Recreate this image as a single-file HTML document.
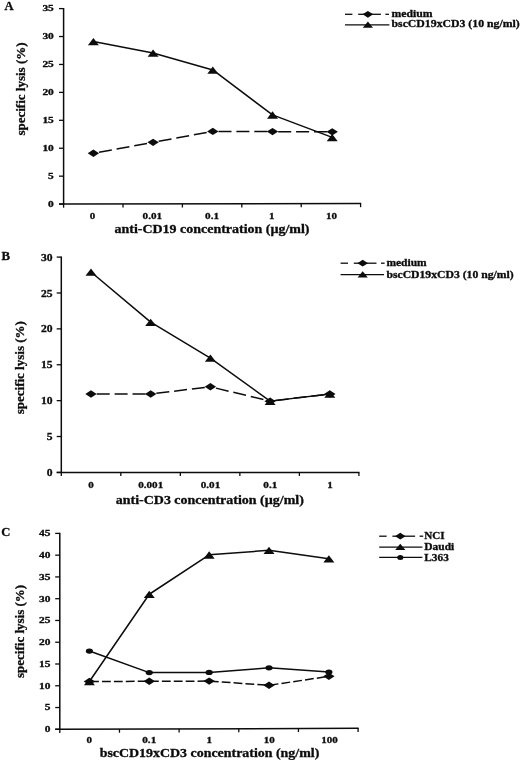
<!DOCTYPE html>
<html><head><meta charset="utf-8"><title>Figure</title>
<style>
html,body{margin:0;padding:0;background:#fff;}
body{width:520px;height:760px;overflow:hidden;}
svg{display:block;filter:blur(0.45px);}
svg text{font-family:"Liberation Serif", serif;font-weight:bold;fill:#0c0c0c;stroke:#0c0c0c;stroke-width:0.3px;}
</style></head><body>
<svg width="520" height="760" viewBox="0 0 520 760">
<rect width="520" height="760" fill="#fff"/>
<line x1="63.6" y1="8.0" x2="63.6" y2="204.79999999999998" stroke="#0c0c0c" stroke-width="1.5"/>
<line x1="59.0" y1="204.1" x2="361.20000000000005" y2="203.6" stroke="#0c0c0c" stroke-width="1.5"/>
<line x1="59.0" y1="204.10" x2="63.6" y2="204.10" stroke="#0c0c0c" stroke-width="1.3"/>
<text x="53.80" y="206.90" font-size="8.4" text-anchor="end" textLength="5.70" lengthAdjust="spacingAndGlyphs">0</text>
<line x1="59.0" y1="176.17" x2="63.6" y2="176.17" stroke="#0c0c0c" stroke-width="1.3"/>
<text x="53.80" y="178.97" font-size="8.4" text-anchor="end" textLength="5.70" lengthAdjust="spacingAndGlyphs">5</text>
<line x1="59.0" y1="148.24" x2="63.6" y2="148.24" stroke="#0c0c0c" stroke-width="1.3"/>
<text x="53.80" y="151.04" font-size="8.4" text-anchor="end" textLength="11.40" lengthAdjust="spacingAndGlyphs">10</text>
<line x1="59.0" y1="120.31" x2="63.6" y2="120.31" stroke="#0c0c0c" stroke-width="1.3"/>
<text x="53.80" y="123.11" font-size="8.4" text-anchor="end" textLength="11.40" lengthAdjust="spacingAndGlyphs">15</text>
<line x1="59.0" y1="92.39" x2="63.6" y2="92.39" stroke="#0c0c0c" stroke-width="1.3"/>
<text x="53.80" y="95.19" font-size="8.4" text-anchor="end" textLength="11.40" lengthAdjust="spacingAndGlyphs">20</text>
<line x1="59.0" y1="64.46" x2="63.6" y2="64.46" stroke="#0c0c0c" stroke-width="1.3"/>
<text x="53.80" y="67.26" font-size="8.4" text-anchor="end" textLength="11.40" lengthAdjust="spacingAndGlyphs">25</text>
<line x1="59.0" y1="36.53" x2="63.6" y2="36.53" stroke="#0c0c0c" stroke-width="1.3"/>
<text x="53.80" y="39.33" font-size="8.4" text-anchor="end" textLength="11.40" lengthAdjust="spacingAndGlyphs">30</text>
<line x1="59.0" y1="8.60" x2="63.6" y2="8.60" stroke="#0c0c0c" stroke-width="1.3"/>
<text x="53.80" y="11.40" font-size="8.4" text-anchor="end" textLength="11.40" lengthAdjust="spacingAndGlyphs">35</text>
<line x1="63.60" y1="204.10" x2="63.60" y2="207.70" stroke="#0c0c0c" stroke-width="1.3"/>
<line x1="123.00" y1="204.00" x2="123.00" y2="207.60" stroke="#0c0c0c" stroke-width="1.3"/>
<line x1="182.40" y1="203.90" x2="182.40" y2="207.50" stroke="#0c0c0c" stroke-width="1.3"/>
<line x1="241.80" y1="203.80" x2="241.80" y2="207.40" stroke="#0c0c0c" stroke-width="1.3"/>
<line x1="301.20" y1="203.70" x2="301.20" y2="207.30" stroke="#0c0c0c" stroke-width="1.3"/>
<line x1="360.60" y1="203.60" x2="360.60" y2="207.20" stroke="#0c0c0c" stroke-width="1.3"/>
<text x="92.60" y="218.60" font-size="9" text-anchor="middle" textLength="5.50" lengthAdjust="spacingAndGlyphs">0</text>
<text x="152.35" y="218.60" font-size="9" text-anchor="middle" textLength="19.50" lengthAdjust="spacingAndGlyphs">0.01</text>
<text x="212.10" y="218.60" font-size="9" text-anchor="middle" textLength="14.00" lengthAdjust="spacingAndGlyphs">0.1</text>
<text x="271.85" y="218.60" font-size="9" text-anchor="middle" textLength="5.50" lengthAdjust="spacingAndGlyphs">1</text>
<text x="331.60" y="218.60" font-size="9" text-anchor="middle" textLength="11.00" lengthAdjust="spacingAndGlyphs">10</text>
<text x="212.00" y="232.60" font-size="12" text-anchor="middle" textLength="195.00" lengthAdjust="spacingAndGlyphs">anti-CD19 concentration (µg/ml)</text>
<text transform="translate(25.4,89.0) rotate(-90)" font-size="13" text-anchor="middle">specific lysis (%)</text>
<text x="4.60" y="9.80" font-size="12.5" text-anchor="start">A</text>
<line x1="93.40" y1="153.28" x2="153.10" y2="142.33" stroke="#0c0c0c" stroke-width="1.5" stroke-dasharray="13 4.9" stroke-dashoffset="12.2"/>
<line x1="153.10" y1="142.33" x2="212.80" y2="131.39" stroke="#0c0c0c" stroke-width="1.5" stroke-dasharray="13 4.9" stroke-dashoffset="12.2"/>
<line x1="212.80" y1="131.39" x2="272.50" y2="131.61" stroke="#0c0c0c" stroke-width="1.5" stroke-dasharray="13 4.9" stroke-dashoffset="12.2"/>
<line x1="272.50" y1="131.61" x2="332.20" y2="131.84" stroke="#0c0c0c" stroke-width="1.5" stroke-dasharray="13 4.9" stroke-dashoffset="12.2"/>
<polygon points="87.70,153.28 93.40,149.58 99.10,153.28 93.40,156.98" fill="#0c0c0c"/>
<polygon points="147.40,142.33 153.10,138.63 158.80,142.33 153.10,146.03" fill="#0c0c0c"/>
<polygon points="207.10,131.39 212.80,127.69 218.50,131.39 212.80,135.09" fill="#0c0c0c"/>
<polygon points="266.80,131.61 272.50,127.91 278.20,131.61 272.50,135.31" fill="#0c0c0c"/>
<polygon points="326.50,131.84 332.20,128.14 337.90,131.84 332.20,135.54" fill="#0c0c0c"/>
<polyline points="93.40,41.57 153.10,52.96 212.80,69.95 272.50,114.86 332.20,137.42" fill="none" stroke="#0c0c0c" stroke-width="1.5" stroke-linejoin="round"/>
<polygon points="87.90,45.37 93.40,38.07 98.90,45.37" fill="#0c0c0c"/>
<polygon points="147.60,56.76 153.10,49.46 158.60,56.76" fill="#0c0c0c"/>
<polygon points="207.30,73.75 212.80,66.45 218.30,73.75" fill="#0c0c0c"/>
<polygon points="267.00,118.66 272.50,111.36 278.00,118.66" fill="#0c0c0c"/>
<polygon points="326.70,141.22 332.20,133.92 337.70,141.22" fill="#0c0c0c"/>
<line x1="345.00" y1="14.3" x2="352.40" y2="14.3" stroke="#0c0c0c" stroke-width="1.3"/>
<line x1="358.20" y1="14.3" x2="380.90" y2="14.3" stroke="#0c0c0c" stroke-width="1.3"/>
<line x1="385.40" y1="14.3" x2="389.00" y2="14.3" stroke="#0c0c0c" stroke-width="1.3"/>
<polygon points="362.60,14.30 367.90,10.90 373.20,14.30 367.90,17.70" fill="#0c0c0c"/>
<text x="391.50" y="16.60" font-size="10" text-anchor="start" textLength="41.00" lengthAdjust="spacingAndGlyphs">medium</text>
<line x1="345" y1="24.9" x2="389.4" y2="24.9" stroke="#0c0c0c" stroke-width="1.3"/>
<polygon points="362.80,27.70 367.90,21.50 373.00,27.70" fill="#0c0c0c"/>
<text x="391.50" y="27.20" font-size="10" text-anchor="start" textLength="128.20" lengthAdjust="spacingAndGlyphs">bscCD19xCD3 (10 ng/ml)</text>
<line x1="61.3" y1="256.5" x2="61.3" y2="473.09999999999997" stroke="#0c0c0c" stroke-width="1.5"/>
<line x1="56.699999999999996" y1="472.4" x2="359.5" y2="472.4" stroke="#0c0c0c" stroke-width="1.5"/>
<line x1="56.699999999999996" y1="472.40" x2="61.3" y2="472.40" stroke="#0c0c0c" stroke-width="1.3"/>
<text x="52.60" y="476.00" font-size="10.2" text-anchor="end" textLength="5.80" lengthAdjust="spacingAndGlyphs">0</text>
<line x1="56.699999999999996" y1="436.52" x2="61.3" y2="436.52" stroke="#0c0c0c" stroke-width="1.3"/>
<text x="52.60" y="440.12" font-size="10.2" text-anchor="end" textLength="5.80" lengthAdjust="spacingAndGlyphs">5</text>
<line x1="56.699999999999996" y1="400.63" x2="61.3" y2="400.63" stroke="#0c0c0c" stroke-width="1.3"/>
<text x="52.60" y="404.23" font-size="10.2" text-anchor="end" textLength="11.60" lengthAdjust="spacingAndGlyphs">10</text>
<line x1="56.699999999999996" y1="364.75" x2="61.3" y2="364.75" stroke="#0c0c0c" stroke-width="1.3"/>
<text x="52.60" y="368.35" font-size="10.2" text-anchor="end" textLength="11.60" lengthAdjust="spacingAndGlyphs">15</text>
<line x1="56.699999999999996" y1="328.87" x2="61.3" y2="328.87" stroke="#0c0c0c" stroke-width="1.3"/>
<text x="52.60" y="332.47" font-size="10.2" text-anchor="end" textLength="11.60" lengthAdjust="spacingAndGlyphs">20</text>
<line x1="56.699999999999996" y1="292.98" x2="61.3" y2="292.98" stroke="#0c0c0c" stroke-width="1.3"/>
<text x="52.60" y="296.58" font-size="10.2" text-anchor="end" textLength="11.60" lengthAdjust="spacingAndGlyphs">25</text>
<line x1="56.699999999999996" y1="257.10" x2="61.3" y2="257.10" stroke="#0c0c0c" stroke-width="1.3"/>
<text x="52.60" y="260.70" font-size="10.2" text-anchor="end" textLength="11.60" lengthAdjust="spacingAndGlyphs">30</text>
<line x1="61.30" y1="472.40" x2="61.30" y2="476.00" stroke="#0c0c0c" stroke-width="1.3"/>
<line x1="120.82" y1="472.40" x2="120.82" y2="476.00" stroke="#0c0c0c" stroke-width="1.3"/>
<line x1="180.34" y1="472.40" x2="180.34" y2="476.00" stroke="#0c0c0c" stroke-width="1.3"/>
<line x1="239.86" y1="472.40" x2="239.86" y2="476.00" stroke="#0c0c0c" stroke-width="1.3"/>
<line x1="299.38" y1="472.40" x2="299.38" y2="476.00" stroke="#0c0c0c" stroke-width="1.3"/>
<line x1="358.90" y1="472.40" x2="358.90" y2="476.00" stroke="#0c0c0c" stroke-width="1.3"/>
<text x="90.90" y="488.10" font-size="9" text-anchor="middle" textLength="5.50" lengthAdjust="spacingAndGlyphs">0</text>
<text x="150.70" y="488.10" font-size="9" text-anchor="middle" textLength="25.00" lengthAdjust="spacingAndGlyphs">0.001</text>
<text x="210.50" y="488.10" font-size="9" text-anchor="middle" textLength="19.50" lengthAdjust="spacingAndGlyphs">0.01</text>
<text x="270.30" y="488.10" font-size="9" text-anchor="middle" textLength="14.00" lengthAdjust="spacingAndGlyphs">0.1</text>
<text x="330.10" y="488.10" font-size="9" text-anchor="middle" textLength="5.50" lengthAdjust="spacingAndGlyphs">1</text>
<text x="209.80" y="504.30" font-size="12" text-anchor="middle" textLength="188.00" lengthAdjust="spacingAndGlyphs">anti-CD3 concentration (µg/ml)</text>
<text transform="translate(23.8,367.7) rotate(-90)" font-size="13" text-anchor="middle">specific lysis (%)</text>
<text x="1.60" y="259.90" font-size="12.8" text-anchor="start">B</text>
<line x1="91.00" y1="393.96" x2="150.70" y2="393.96" stroke="#0c0c0c" stroke-width="1.5" stroke-dasharray="13 4.9" stroke-dashoffset="12.2"/>
<line x1="150.70" y1="393.96" x2="210.40" y2="386.78" stroke="#0c0c0c" stroke-width="1.5" stroke-dasharray="13 4.9" stroke-dashoffset="12.2"/>
<line x1="210.40" y1="386.78" x2="270.10" y2="401.13" stroke="#0c0c0c" stroke-width="1.5" stroke-dasharray="13 4.9" stroke-dashoffset="12.2"/>
<line x1="270.10" y1="401.13" x2="329.80" y2="393.96" stroke="#0c0c0c" stroke-width="1.5" stroke-dasharray="13 4.9" stroke-dashoffset="12.2"/>
<polygon points="85.30,393.96 91.00,390.26 96.70,393.96 91.00,397.66" fill="#0c0c0c"/>
<polygon points="145.00,393.96 150.70,390.26 156.40,393.96 150.70,397.66" fill="#0c0c0c"/>
<polygon points="204.70,386.78 210.40,383.08 216.10,386.78 210.40,390.48" fill="#0c0c0c"/>
<polygon points="264.40,401.13 270.10,397.43 275.80,401.13 270.10,404.83" fill="#0c0c0c"/>
<polygon points="324.10,393.96 329.80,390.26 335.50,393.96 329.80,397.66" fill="#0c0c0c"/>
<polyline points="91.00,271.95 150.70,322.19 210.40,358.07 270.10,401.13 329.80,393.96" fill="none" stroke="#0c0c0c" stroke-width="1.5" stroke-linejoin="round"/>
<polygon points="85.50,275.75 91.00,268.45 96.50,275.75" fill="#0c0c0c"/>
<polygon points="145.20,325.99 150.70,318.69 156.20,325.99" fill="#0c0c0c"/>
<polygon points="204.90,361.87 210.40,354.57 215.90,361.87" fill="#0c0c0c"/>
<polygon points="264.60,404.93 270.10,397.63 275.60,404.93" fill="#0c0c0c"/>
<polygon points="324.30,397.76 329.80,390.46 335.30,397.76" fill="#0c0c0c"/>
<line x1="340.60" y1="263.2" x2="348.00" y2="263.2" stroke="#0c0c0c" stroke-width="1.3"/>
<line x1="353.80" y1="263.2" x2="376.50" y2="263.2" stroke="#0c0c0c" stroke-width="1.3"/>
<line x1="381.00" y1="263.2" x2="384.60" y2="263.2" stroke="#0c0c0c" stroke-width="1.3"/>
<polygon points="357.40,263.20 362.70,259.80 368.00,263.20 362.70,266.60" fill="#0c0c0c"/>
<text x="386.40" y="265.50" font-size="10" text-anchor="start" textLength="40.30" lengthAdjust="spacingAndGlyphs">medium</text>
<line x1="340.6" y1="274.7" x2="384" y2="274.7" stroke="#0c0c0c" stroke-width="1.3"/>
<polygon points="357.60,277.50 362.70,271.30 367.80,277.50" fill="#0c0c0c"/>
<text x="386.40" y="278.00" font-size="10" text-anchor="start" textLength="127.30" lengthAdjust="spacingAndGlyphs">bscCD19xCD3 (10 ng/ml)</text>
<line x1="59.8" y1="532.8" x2="59.8" y2="730.0" stroke="#0c0c0c" stroke-width="1.5"/>
<line x1="55.199999999999996" y1="729.3" x2="358.70000000000005" y2="728.3" stroke="#0c0c0c" stroke-width="1.5"/>
<line x1="55.199999999999996" y1="729.30" x2="59.8" y2="729.30" stroke="#0c0c0c" stroke-width="1.3"/>
<text x="50.40" y="732.10" font-size="8.3" text-anchor="end" textLength="5.70" lengthAdjust="spacingAndGlyphs">0</text>
<line x1="55.199999999999996" y1="707.53" x2="59.8" y2="707.53" stroke="#0c0c0c" stroke-width="1.3"/>
<text x="50.40" y="710.33" font-size="8.3" text-anchor="end" textLength="5.70" lengthAdjust="spacingAndGlyphs">5</text>
<line x1="55.199999999999996" y1="685.77" x2="59.8" y2="685.77" stroke="#0c0c0c" stroke-width="1.3"/>
<text x="50.40" y="688.57" font-size="8.3" text-anchor="end" textLength="11.40" lengthAdjust="spacingAndGlyphs">10</text>
<line x1="55.199999999999996" y1="664.00" x2="59.8" y2="664.00" stroke="#0c0c0c" stroke-width="1.3"/>
<text x="50.40" y="666.80" font-size="8.3" text-anchor="end" textLength="11.40" lengthAdjust="spacingAndGlyphs">15</text>
<line x1="55.199999999999996" y1="642.23" x2="59.8" y2="642.23" stroke="#0c0c0c" stroke-width="1.3"/>
<text x="50.40" y="645.03" font-size="8.3" text-anchor="end" textLength="11.40" lengthAdjust="spacingAndGlyphs">20</text>
<line x1="55.199999999999996" y1="620.47" x2="59.8" y2="620.47" stroke="#0c0c0c" stroke-width="1.3"/>
<text x="50.40" y="623.27" font-size="8.3" text-anchor="end" textLength="11.40" lengthAdjust="spacingAndGlyphs">25</text>
<line x1="55.199999999999996" y1="598.70" x2="59.8" y2="598.70" stroke="#0c0c0c" stroke-width="1.3"/>
<text x="50.40" y="601.50" font-size="8.3" text-anchor="end" textLength="11.40" lengthAdjust="spacingAndGlyphs">30</text>
<line x1="55.199999999999996" y1="576.93" x2="59.8" y2="576.93" stroke="#0c0c0c" stroke-width="1.3"/>
<text x="50.40" y="579.73" font-size="8.3" text-anchor="end" textLength="11.40" lengthAdjust="spacingAndGlyphs">35</text>
<line x1="55.199999999999996" y1="555.17" x2="59.8" y2="555.17" stroke="#0c0c0c" stroke-width="1.3"/>
<text x="50.40" y="557.97" font-size="8.3" text-anchor="end" textLength="11.40" lengthAdjust="spacingAndGlyphs">40</text>
<line x1="55.199999999999996" y1="533.40" x2="59.8" y2="533.40" stroke="#0c0c0c" stroke-width="1.3"/>
<text x="50.40" y="536.20" font-size="8.3" text-anchor="end" textLength="11.40" lengthAdjust="spacingAndGlyphs">45</text>
<line x1="59.80" y1="729.30" x2="59.80" y2="732.90" stroke="#0c0c0c" stroke-width="1.3"/>
<line x1="119.46" y1="729.10" x2="119.46" y2="732.70" stroke="#0c0c0c" stroke-width="1.3"/>
<line x1="179.12" y1="728.90" x2="179.12" y2="732.50" stroke="#0c0c0c" stroke-width="1.3"/>
<line x1="238.78" y1="728.70" x2="238.78" y2="732.30" stroke="#0c0c0c" stroke-width="1.3"/>
<line x1="298.44" y1="728.50" x2="298.44" y2="732.10" stroke="#0c0c0c" stroke-width="1.3"/>
<line x1="358.10" y1="728.30" x2="358.10" y2="731.90" stroke="#0c0c0c" stroke-width="1.3"/>
<text x="89.20" y="743.40" font-size="9" text-anchor="middle" textLength="5.50" lengthAdjust="spacingAndGlyphs">0</text>
<text x="149.25" y="743.40" font-size="9" text-anchor="middle" textLength="14.00" lengthAdjust="spacingAndGlyphs">0.1</text>
<text x="209.30" y="743.40" font-size="9" text-anchor="middle" textLength="5.50" lengthAdjust="spacingAndGlyphs">1</text>
<text x="269.35" y="743.40" font-size="9" text-anchor="middle" textLength="11.00" lengthAdjust="spacingAndGlyphs">10</text>
<text x="329.40" y="743.40" font-size="9" text-anchor="middle" textLength="16.50" lengthAdjust="spacingAndGlyphs">100</text>
<text x="209.50" y="757.40" font-size="12" text-anchor="middle" textLength="219.60" lengthAdjust="spacingAndGlyphs">bscCD19xCD3 concentration (ng/ml)</text>
<text transform="translate(23.8,631.4) rotate(-90)" font-size="13" text-anchor="middle">specific lysis (%)</text>
<text x="1.20" y="536.30" font-size="12.6" text-anchor="start">C</text>
<line x1="89.40" y1="681.51" x2="149.27" y2="681.31" stroke="#0c0c0c" stroke-width="1.5" stroke-dasharray="8.8 3.1" stroke-dashoffset="11.2"/>
<line x1="149.27" y1="681.31" x2="209.14" y2="681.11" stroke="#0c0c0c" stroke-width="1.5" stroke-dasharray="8.8 3.1" stroke-dashoffset="11.2"/>
<line x1="209.14" y1="681.11" x2="269.01" y2="685.27" stroke="#0c0c0c" stroke-width="1.5" stroke-dasharray="8.8 3.1" stroke-dashoffset="11.2"/>
<line x1="269.01" y1="685.27" x2="328.88" y2="676.36" stroke="#0c0c0c" stroke-width="1.5" stroke-dasharray="8.8 3.1" stroke-dashoffset="11.2"/>
<polygon points="83.70,681.51 89.40,677.81 95.10,681.51 89.40,685.21" fill="#0c0c0c"/>
<polygon points="143.57,681.31 149.27,677.61 154.97,681.31 149.27,685.01" fill="#0c0c0c"/>
<polygon points="203.44,681.11 209.14,677.41 214.84,681.11 209.14,684.81" fill="#0c0c0c"/>
<polygon points="263.31,685.27 269.01,681.57 274.71,685.27 269.01,688.97" fill="#0c0c0c"/>
<polygon points="323.18,676.36 328.88,672.66 334.58,676.36 328.88,680.06" fill="#0c0c0c"/>
<polyline points="89.40,681.51 149.27,594.25 209.14,554.87 269.01,550.31 328.88,558.82" fill="none" stroke="#0c0c0c" stroke-width="1.5" stroke-linejoin="round"/>
<polygon points="83.90,685.31 89.40,678.01 94.90,685.31" fill="#0c0c0c"/>
<polygon points="143.77,598.05 149.27,590.75 154.77,598.05" fill="#0c0c0c"/>
<polygon points="203.64,558.67 209.14,551.37 214.64,558.67" fill="#0c0c0c"/>
<polygon points="263.51,554.11 269.01,546.81 274.51,554.11" fill="#0c0c0c"/>
<polygon points="323.38,562.62 328.88,555.32 334.38,562.62" fill="#0c0c0c"/>
<polyline points="89.40,651.04 149.27,672.61 209.14,672.41 269.01,667.85 328.88,672.01" fill="none" stroke="#0c0c0c" stroke-width="1.5" stroke-linejoin="round"/>
<ellipse cx="89.40" cy="651.04" rx="3.6" ry="2.6" fill="#0c0c0c"/>
<ellipse cx="149.27" cy="672.61" rx="3.6" ry="2.6" fill="#0c0c0c"/>
<ellipse cx="209.14" cy="672.41" rx="3.6" ry="2.6" fill="#0c0c0c"/>
<ellipse cx="269.01" cy="667.85" rx="3.6" ry="2.6" fill="#0c0c0c"/>
<ellipse cx="328.88" cy="672.01" rx="3.6" ry="2.6" fill="#0c0c0c"/>
<line x1="379.20" y1="536.2" x2="386.60" y2="536.2" stroke="#0c0c0c" stroke-width="1.3"/>
<line x1="392.40" y1="536.2" x2="415.10" y2="536.2" stroke="#0c0c0c" stroke-width="1.3"/>
<line x1="419.60" y1="536.2" x2="423.20" y2="536.2" stroke="#0c0c0c" stroke-width="1.3"/>
<polygon points="395.00,536.20 400.30,532.80 405.60,536.20 400.30,539.60" fill="#0c0c0c"/>
<text x="424.30" y="538.90" font-size="10" text-anchor="start" textLength="20.40" lengthAdjust="spacingAndGlyphs">NCI</text>
<line x1="379.2" y1="547.1" x2="422.4" y2="547.1" stroke="#0c0c0c" stroke-width="1.3"/>
<polygon points="395.20,549.90 400.30,543.70 405.40,549.90" fill="#0c0c0c"/>
<text x="424.30" y="549.80" font-size="10" text-anchor="start" textLength="30.00" lengthAdjust="spacingAndGlyphs">Daudi</text>
<line x1="379.2" y1="557.4" x2="422.4" y2="557.4" stroke="#0c0c0c" stroke-width="1.3"/>
<ellipse cx="400.30" cy="557.40" rx="3.1" ry="2.5" fill="#0c0c0c"/>
<text x="424.30" y="560.60" font-size="10" text-anchor="start" textLength="24.50" lengthAdjust="spacingAndGlyphs">L363</text>
</svg>
</body></html>
